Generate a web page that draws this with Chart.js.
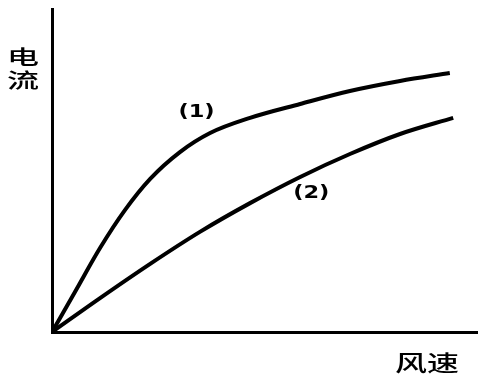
<!DOCTYPE html>
<html>
<head>
<meta charset="utf-8">
<script src="https://cdn.jsdelivr.net/npm/chart.js@4.4.0/dist/chart.umd.min.js"></script>
<style>
html,body{margin:0;padding:0;background:#fff;}
#wrap{width:485px;height:385px;position:relative;}
</style>
</head>
<body>
<div id="wrap"><canvas id="c" width="485" height="385"></canvas></div>
<script>
// Wind speed (x) vs current (y), arbitrary units 0-100
const curve1X = [0, 5.4, 11.3, 17.2, 23.1, 30.1, 37.2, 46.6, 58.4, 70.1, 81.9, 93.6];
const curve1Y = [0, 12.4, 26.0, 37.8, 47.4, 55.7, 61.6, 66.3, 70.6, 74.6, 77.7, 80.2];
const curve2X = [0, 11.3, 23.1, 34.8, 46.6, 58.4, 70.1, 81.9, 94.4];
const curve2Y = [0, 10.5, 21.1, 31.0, 39.9, 48.0, 55.1, 61.3, 66.3];
const curveLabels = ["(1)", "(2)"];
const labelPosX = [34.0, 61.0];
const labelPosY = [68.0, 43.0];
const xTitle = "风速";
const yTitle = "电流";

const toPts = (xs, ys) => xs.map((x, i) => ({x: x, y: ys[i]}));

function wideText(ctx, t, x, y, sx) {
  ctx.save();
  ctx.translate(x, y);
  ctx.scale(sx, 1);
  ctx.fillText(t, 0, 0);
  ctx.restore();
}

const textPlugin = {
  id: 'texts',
  afterDraw(chart) {
    const ctx = chart.ctx;
    const xs = chart.scales.x, ys = chart.scales.y;
    ctx.save();
    ctx.fillStyle = '#000';
    ctx.textAlign = 'center';
    ctx.textBaseline = 'middle';
    ctx.font = 'bold 18px "DejaVu Sans"';
    curveLabels.forEach((t, i) => {
      wideText(ctx, t, xs.getPixelForValue(labelPosX[i]), ys.getPixelForValue(labelPosY[i]), 1.25);
    });
    ctx.font = '500 20px "Noto Sans CJK SC"';
    const yx = xs.left - 29;
    wideText(ctx, yTitle[0], yx, ys.top + 48, 1.6);
    wideText(ctx, yTitle[1], yx, ys.top + 71, 1.6);
    ctx.font = '500 22px "Noto Sans CJK SC"';
    wideText(ctx, xTitle, xs.right - 50, ys.bottom + 31, 1.45);
    ctx.restore();
  }
};

new Chart(document.getElementById('c'), {
  type: 'line',
  data: {
    datasets: [
      {data: toPts(curve1X, curve1Y), borderColor: '#000', borderWidth: 4, pointRadius: 0, fill: false, cubicInterpolationMode: 'monotone'},
      {data: toPts(curve2X, curve2Y), borderColor: '#000', borderWidth: 4, pointRadius: 0, fill: false, cubicInterpolationMode: 'monotone'}
    ]
  },
  options: {
    responsive: false,
    animation: false,
    layout: {padding: {left: 52, top: 9, right: 8, bottom: 53}},
    plugins: {legend: {display: false}, tooltip: {enabled: false}},
    scales: {
      x: {
        type: 'linear', min: 0, max: 100,
        ticks: {display: false},
        grid: {display: false},
        border: {display: true, color: '#000', width: 3},
        afterFit(s) { s.height = 0; }
      },
      y: {
        type: 'linear', min: 0, max: 100,
        ticks: {display: false},
        grid: {display: false},
        border: {display: true, color: '#000', width: 3},
        afterFit(s) { s.width = 0; }
      }
    }
  },
  plugins: [textPlugin]
});
</script>
</body>
</html>
